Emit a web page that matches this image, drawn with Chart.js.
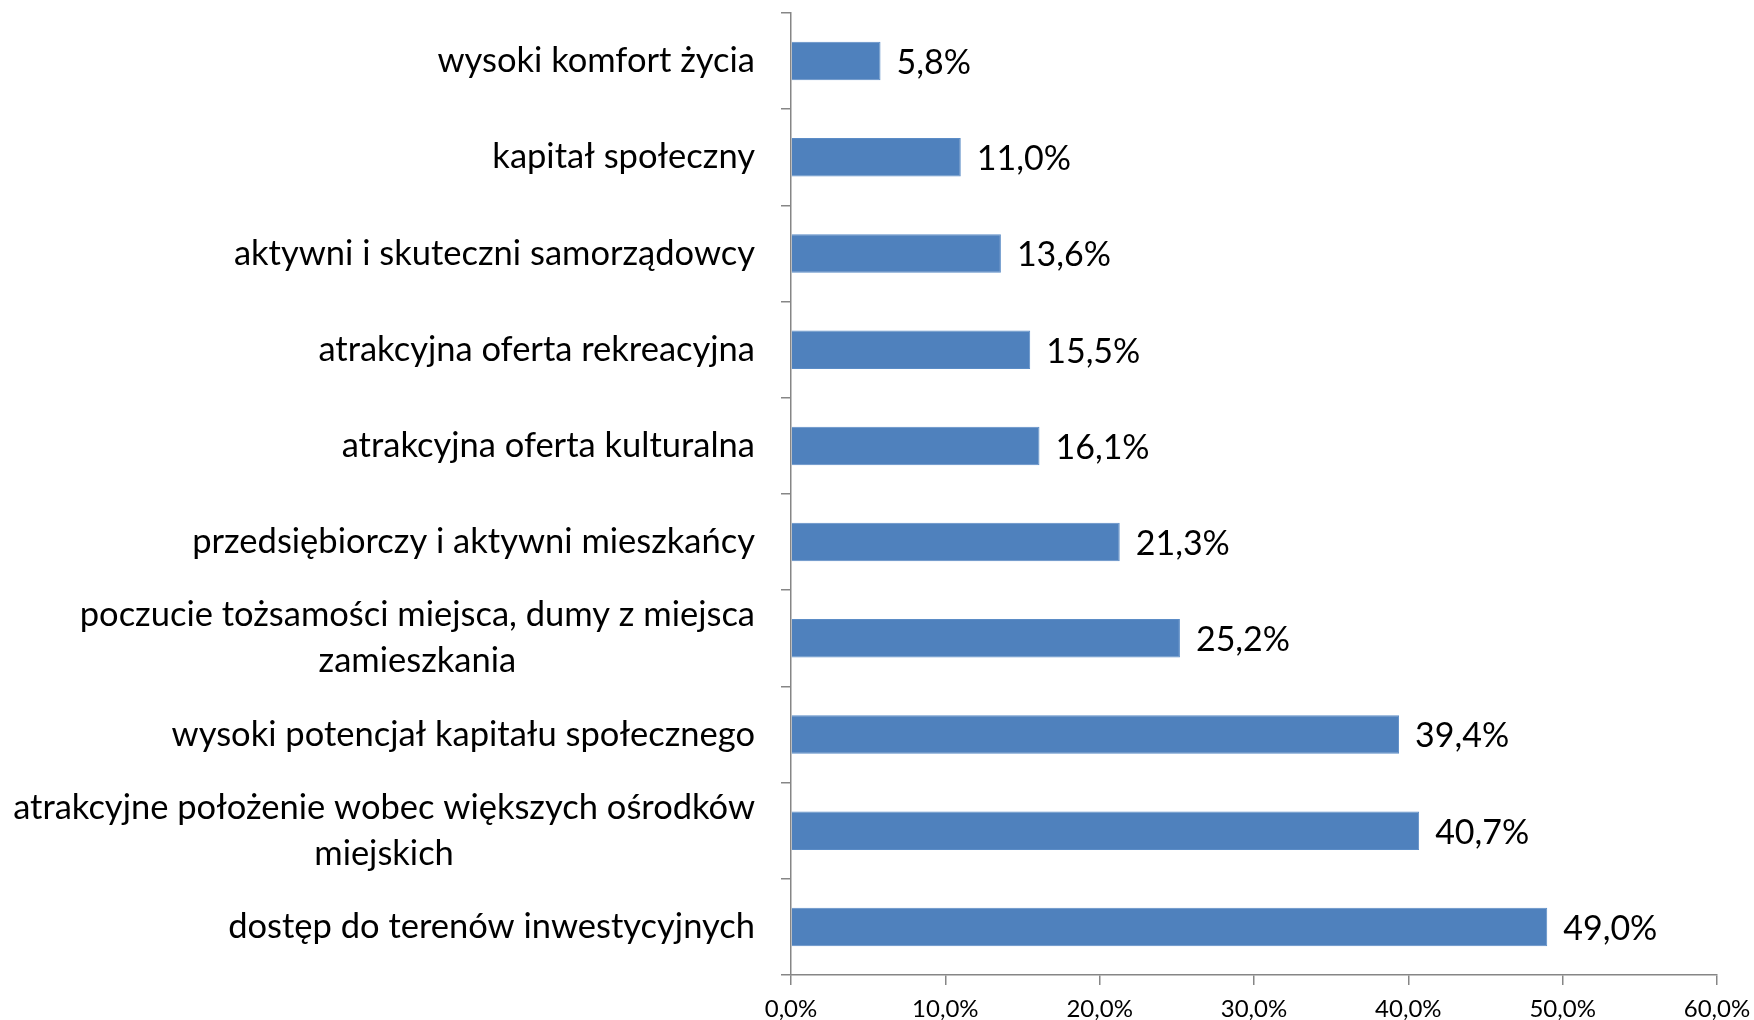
<!DOCTYPE html>
<html lang="pl">
<head>
<meta charset="UTF-8">
<title>Czynniki</title>
<script src="https://cdn.jsdelivr.net/npm/chart.js@4.4.0/dist/chart.umd.min.js"></script>
<style>
  body { margin: 0; background: #fff; }
</style>
</head>
<body>
<canvas id="chart" width="1754" height="1020"></canvas>
<script>
var categories = [
  ['wysoki komfort życia'],
  ['kapitał społeczny'],
  ['aktywni i skuteczni samorządowcy'],
  ['atrakcyjna oferta rekreacyjna'],
  ['atrakcyjna oferta kulturalna'],
  ['przedsiębiorczy i aktywni mieszkańcy'],
  ['poczucie tożsamości miejsca, dumy z miejsca', 'zamieszkania'],
  ['wysoki potencjał kapitału społecznego'],
  ['atrakcyjne położenie wobec większych ośrodków', 'miejskich'],
  ['dostęp do terenów inwestycyjnych']
];
var values = [5.8, 11.0, 13.6, 15.5, 16.1, 21.3, 25.2, 39.4, 40.7, 49.0];
var xTicks = [0, 10, 20, 30, 40, 50, 60];

var FONT = 'Lato, "Open Sans", sans-serif';
var AXIS = '#868686';

function pct(v) {
  return v.toFixed(1).replace('.', ',') + '%';
}

// etykiety kategorii: wiersze wyśrodkowane w bloku, blok dosunięty do osi
var catLabels = {
  id: 'catLabels',
  afterDraw: function(chart) {
    var ctx = chart.ctx, sc = chart.scales.y;
    ctx.save();
    ctx.font = '34.5px ' + FONT;
    ctx.fillStyle = '#000';
    ctx.textBaseline = 'middle';
    ctx.textAlign = 'center';
    var right = sc.right - 36, lh = 46;
    categories.forEach(function(lines, i) {
      var y = sc.getPixelForTick(i);
      var w = 0;
      lines.forEach(function(l) { w = Math.max(w, ctx.measureText(l).width); });
      var cx = right - w / 2;
      var y0 = y - (lines.length - 1) * lh / 2;
      lines.forEach(function(l, k) { ctx.fillText(l, cx, y0 + k * lh); });
    });
    ctx.restore();
  }
};

var valueLabels = {
  id: 'valueLabels',
  afterDatasetsDraw: function(chart) {
    var ctx = chart.ctx;
    ctx.save();
    ctx.font = '34px ' + FONT;
    ctx.fillStyle = '#000';
    ctx.textBaseline = 'middle';
    ctx.textAlign = 'left';
    chart.getDatasetMeta(0).data.forEach(function(bar, i) {
      ctx.fillText(pct(values[i]), bar.x + 16, bar.y + 2);
    });
    ctx.restore();
  }
};

new Chart(document.getElementById('chart'), {
  type: 'bar',
  data: {
    labels: categories.map(function(c) { return c.join(' '); }),
    datasets: [{
      data: values,
      backgroundColor: '#4F81BD',
      borderColor: '#5B8CC6',
      borderWidth: 1,
      barPercentage: 0.4,
      categoryPercentage: 1
    }]
  },
  options: {
    indexAxis: 'y',
    responsive: false,
    animation: false,
    layout: { padding: { top: 13, right: 37, left: 0, bottom: 0 } },
    plugins: { legend: { display: false }, tooltip: { enabled: false } },
    scales: {
      y: {
        afterFit: function(sc) { sc.width = 791; },
        border: { color: AXIS, width: 1.5 },
        grid: { offset: true, drawOnChartArea: false, tickLength: 10, color: AXIS, lineWidth: 1.5 },
        ticks: { color: 'rgba(0,0,0,0)', callback: function() { return ''; } }
      },
      x: {
        min: xTicks[0],
        max: xTicks[xTicks.length - 1],
        afterBuildTicks: function(sc) {
          sc.ticks = xTicks.map(function(v) { return { value: v }; });
        },
        afterFit: function(sc) {
          sc.height = 45;
          sc.paddingLeft = 0;
          sc.paddingRight = 0;
        },
        border: { color: AXIS, width: 1.5 },
        grid: { drawOnChartArea: false, tickLength: 10, color: AXIS, lineWidth: 1.5 },
        ticks: {
          padding: 10,
          color: '#000',
          maxRotation: 0,
          font: { family: FONT, size: 24 },
          callback: function(v) { return pct(v); }
        }
      }
    }
  },
  plugins: [catLabels, valueLabels]
});
</script>
</body>
</html>
